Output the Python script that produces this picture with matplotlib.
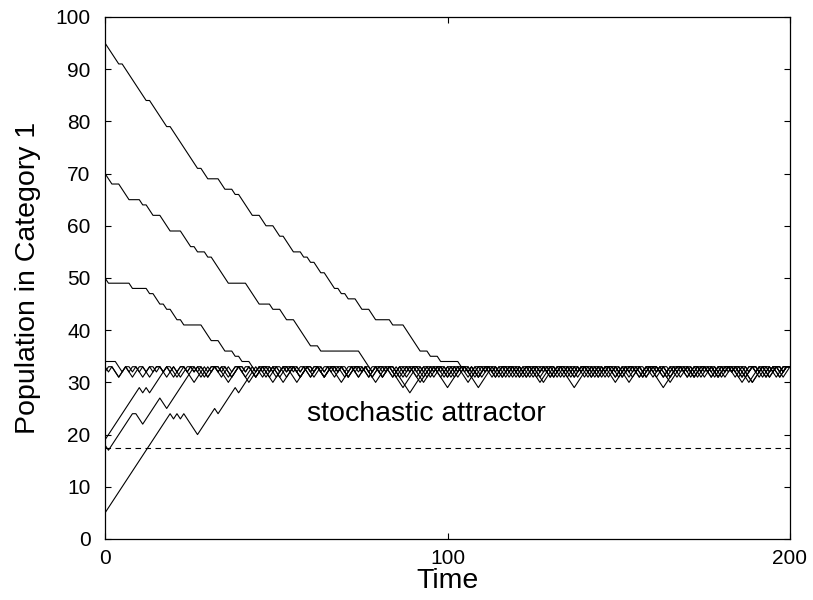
import matplotlib
matplotlib.use("Agg")
import matplotlib.pyplot as plt

plt.rcParams['font.family'] = ['Liberation Sans', 'DejaVu Sans']

# Approach phase of each run: (time, population) vertices
t1_approach = [(0, 95), (4, 91), (5, 91), (12, 84), (13, 84), (18, 79), (19, 79), (27, 71), (28, 71),
               (30, 69), (33, 69), (35, 67), (37, 67), (38, 66), (39, 66), (43, 62), (45, 62), (47, 60),
               (49, 60), (51, 58), (52, 58), (55, 55), (57, 55), (58, 54), (59, 54), (60, 53), (61, 53),
               (63, 51), (64, 51), (67, 48), (68, 48), (69, 47), (70, 47), (71, 46), (73, 46), (75, 44),
               (77, 44), (79, 42), (83, 42), (84, 41), (87, 41), (92, 36), (94, 36), (95, 35), (97, 35),
               (98, 34), (103, 34), (104, 33)]
t2_approach = [(0, 70), (2, 68), (4, 68), (7, 65), (10, 65), (11, 64), (12, 64), (14, 62), (16, 62),
               (19, 59), (22, 59), (25, 56), (26, 56), (27, 55), (29, 55), (30, 54), (31, 54), (36, 49),
               (41, 49), (45, 45), (48, 45), (49, 44), (51, 44), (53, 42), (55, 42), (60, 37), (62, 37),
               (63, 36), (74, 36), (77, 33)]
t3_approach = [(0, 50), (1, 49), (7, 49), (8, 48), (12, 48), (13, 47), (14, 47), (16, 45), (17, 45),
               (18, 44), (19, 44), (21, 42), (22, 42), (23, 41), (28, 41), (31, 38), (33, 38), (35, 36),
               (37, 36), (38, 35), (39, 35), (40, 34), (42, 34), (43, 33)]
t4_approach = [(0, 34), (3, 34), (4, 33)]
t5_approach = [(0, 33)]
t9_approach = [(0, 32), (1, 33)]
t6_approach = [(0, 19), (10, 29), (11, 28), (12, 29), (13, 28), (18, 33)]
t7_approach = [(0, 18), (1, 17), (8, 24), (9, 24), (11, 22), (16, 27), (18, 25), (26, 33)]
t8_approach = [(0, 5), (19, 24), (20, 23), (21, 24), (22, 23), (23, 24), (27, 20), (32, 25), (33, 24),
               (38, 29), (39, 28), (44, 33)]

# Fluctuations below the ceiling of 33: (start time, depth)
t1_dips = [(105, 1), (107, 2), (112, 1), (114, 2), (119, 1), (121, 2), (126, 1), (128, 2), (133, 1),
           (135, 2), (140, 1), (142, 2), (147, 1), (149, 2), (154, 1), (156, 2), (161, 1), (163, 2),
           (168, 1), (170, 2), (175, 1), (177, 2), (182, 1), (186, 3), (193, 1), (195, 2)]
t2_dips = [(77, 1), (79, 2), (84, 1), (86, 2), (91, 1), (93, 2), (98, 1), (100, 2), (105, 1), (107, 2),
           (112, 1), (114, 2), (119, 1), (121, 2), (126, 1), (128, 2), (133, 1), (135, 2), (140, 1),
           (142, 2), (147, 1), (149, 2), (154, 1), (156, 2), (161, 1), (163, 2), (168, 1), (170, 2),
           (175, 1), (177, 2), (182, 1), (184, 2), (189, 1), (191, 2), (196, 1)]
t3_dips = [(43, 1), (45, 2), (50, 1), (52, 1), (55, 2), (59, 1), (62, 2), (66, 1), (69, 2), (74, 1),
           (76, 2), (81, 1), (84, 5), (95, 1), (97, 2), (102, 1), (104, 2), (109, 1), (111, 2), (116, 1),
           (118, 2), (123, 1), (125, 2), (130, 1), (132, 2), (137, 1), (139, 2), (144, 1), (146, 3),
           (153, 1), (155, 2), (160, 1), (162, 2), (167, 1), (169, 2), (174, 1), (176, 2), (181, 1),
           (183, 3), (190, 1), (192, 2), (197, 1)]
t4_dips = [(4, 1), (6, 2), (11, 1), (13, 1), (16, 2), (20, 1), (23, 3), (29, 1), (32, 2), (36, 1),
           (39, 2), (43, 1), (46, 2), (50, 1), (53, 3), (60, 1), (62, 2), (67, 1), (69, 2), (74, 1),
           (76, 2), (81, 1), (83, 2), (88, 1), (90, 3), (97, 1), (99, 2), (104, 1), (106, 2), (111, 1),
           (113, 2), (118, 1), (120, 2), (125, 3), (131, 1), (134, 2), (138, 1), (141, 2), (145, 1),
           (148, 2), (152, 1), (155, 2), (160, 1), (162, 3), (169, 1), (171, 2), (176, 1), (178, 2),
           (183, 1), (185, 2), (190, 1), (192, 2), (197, 1)]
t5_dips = [(0, 1), (2, 2), (7, 1), (9, 2), (14, 1), (16, 1), (19, 2), (23, 1), (26, 2), (30, 1),
           (33, 3), (40, 1), (42, 2), (47, 1), (49, 2), (54, 1), (56, 1), (59, 2), (63, 1), (66, 3),
           (73, 1), (75, 2), (80, 1), (82, 2), (87, 1), (89, 2), (94, 1), (96, 2), (101, 1), (103, 3),
           (110, 1), (112, 2), (117, 1), (119, 2), (124, 1), (126, 1), (129, 2), (133, 4), (142, 1),
           (144, 2), (149, 1), (151, 2), (156, 1), (158, 2), (163, 1), (165, 2), (170, 1), (172, 2),
           (177, 1), (179, 2), (184, 1), (186, 3), (193, 1), (195, 2)]
t6_dips = [(18, 1), (20, 2), (25, 1), (27, 2), (32, 1), (34, 2), (39, 3), (45, 1), (48, 2), (52, 1),
           (55, 2), (59, 1), (62, 2), (67, 1), (69, 2), (74, 1), (76, 3), (83, 1), (85, 2), (90, 1),
           (92, 2), (96, 4), (105, 1), (107, 2), (112, 1), (114, 1), (117, 2), (121, 1), (124, 2),
           (128, 1), (131, 2), (136, 1), (138, 2), (143, 1), (145, 2), (150, 1), (152, 2), (156, 1),
           (159, 4), (168, 1), (170, 2), (175, 1), (177, 2), (182, 1), (184, 2), (189, 1), (191, 2),
           (196, 1)]
t7_dips = [(26, 1), (28, 2), (33, 1), (35, 2), (40, 1), (42, 2), (47, 1), (49, 3), (56, 1), (58, 2),
           (63, 1), (65, 1), (68, 2), (72, 1), (75, 2), (79, 1), (82, 2), (86, 1), (89, 3), (96, 1),
           (98, 2), (103, 1), (105, 2), (110, 1), (112, 2), (117, 1), (119, 2), (124, 3), (131, 1),
           (133, 2), (138, 1), (140, 2), (145, 1), (147, 2), (152, 1), (154, 2), (159, 1), (161, 2),
           (166, 1), (168, 2), (173, 1), (175, 2), (180, 1), (182, 1), (185, 3), (192, 1), (194, 2)]
t8_dips = [(44, 2), (48, 1), (51, 2), (55, 1), (58, 2), (62, 1), (65, 2), (70, 1), (72, 2), (77, 1),
           (79, 2), (84, 2), (88, 1), (91, 2), (95, 1), (98, 2), (102, 1), (105, 4), (114, 1), (116, 2),
           (121, 1), (123, 2), (128, 1), (130, 2), (135, 1), (137, 1), (140, 2), (144, 1), (147, 2),
           (151, 1), (154, 2), (158, 1), (161, 2), (165, 1), (168, 2), (173, 1), (175, 2), (180, 1),
           (182, 2), (187, 1), (189, 2), (194, 1), (196, 2)]
t9_dips = [(2, 2), (6, 1), (9, 1), (11, 2), (16, 1), (18, 2), (23, 1), (25, 1), (28, 2), (32, 1),
           (35, 2), (39, 1), (42, 2), (46, 3), (53, 1), (55, 2), (60, 1), (62, 2), (67, 1), (69, 1),
           (72, 2), (76, 1), (79, 2), (83, 4), (92, 1), (94, 2), (99, 1), (101, 2), (106, 1), (108, 2),
           (113, 1), (115, 2), (120, 1), (122, 2), (127, 1), (129, 2), (134, 1), (136, 2), (141, 1),
           (143, 2), (148, 1), (150, 3), (157, 1), (159, 2), (164, 1), (166, 2), (171, 1), (173, 2),
           (178, 1), (180, 1), (183, 2), (187, 1), (190, 2), (194, 1), (197, 1)]

runs = [(t1_approach, t1_dips), (t2_approach, t2_dips), (t3_approach, t3_dips),
        (t4_approach, t4_dips), (t5_approach, t5_dips), (t9_approach, t9_dips),
        (t6_approach, t6_dips), (t7_approach, t7_dips), (t8_approach, t8_dips)]

ceiling = 33
threshold = 17.5
t_end = 200


def build_path(approach, dips):
    xs = [p[0] for p in approach]
    ys = [p[1] for p in approach]
    for t, d in dips:
        start = max(t, xs[-1])
        xs += [start, start + d, start + 2 * d]
        ys += [ceiling, ceiling - d, ceiling]
    xs.append(t_end)
    ys.append(ceiling)
    return xs, ys


fig = plt.figure(figsize=(8.13, 6.0), dpi=100)
ax = fig.add_axes([0.1292, 0.1017, 0.8425, 0.87])

for approach, dips in runs:
    xs, ys = build_path(approach, dips)
    ax.plot(xs, ys, color='black', lw=0.8)

ax.axhline(threshold, color='black', lw=0.8, dashes=(5, 4))
ax.text(59, 24, 'stochastic attractor', fontsize=20.5, va='center', ha='left')

ax.set_xlim(0, 200)
ax.set_ylim(0, 100)
ax.set_xticks([0, 100, 200])
ax.set_yticks(range(0, 101, 10))
ax.tick_params(direction='in', top=True, right=True, labelsize=15, length=4, width=0.8)
ax.tick_params(axis='y', pad=10.5)
ax.tick_params(axis='x', pad=7)
ax.set_xlabel('Time', fontsize=20.5, labelpad=0)
ax.set_ylabel('Population in Category 1', fontsize=20.5, labelpad=10)
for s in ax.spines.values():
    s.set_linewidth(0.9)

fig.savefig('out.png', dpi=100)
